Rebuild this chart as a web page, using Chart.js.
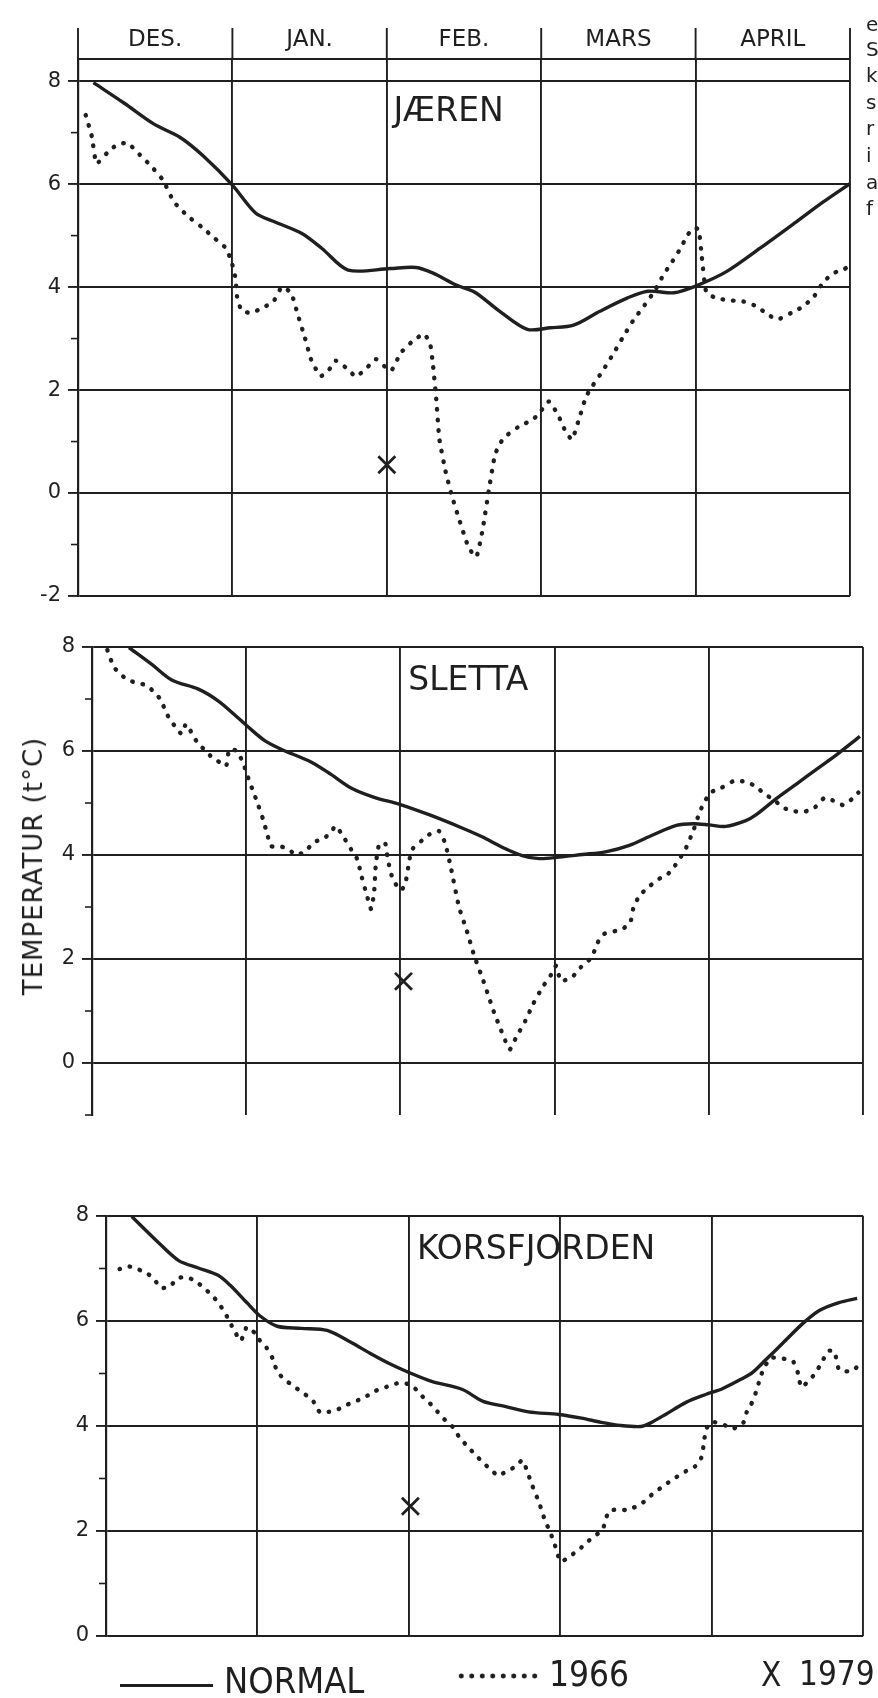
<!DOCTYPE html>
<html>
<head>
<meta charset="utf-8">
<title>Temperatur – Jæren, Sletta, Korsfjorden</title>
<script src="https://cdn.jsdelivr.net/npm/chart.js@4.4.1/dist/chart.umd.min.js"></script>
<style>
  html, body { margin: 0; padding: 0; background: #fff; }
  body { width: 878px; height: 1698px; position: relative; overflow: hidden;
         font-family: "DejaVu Sans", sans-serif; color: #1f1f1f; }
  canvas { position: absolute; left: 0; top: 0; }
  #ylabel { position: absolute; left: 33px; top: 866px; white-space: nowrap;
            font-size: 26px; letter-spacing: 1px;
            transform: translate(-50%, -50%) rotate(-90deg); }
  .lg { position: absolute; white-space: nowrap; line-height: 36px; font-size: 36px;
        font-family: "Liberation Sans Narrow", "DejaVu Sans Condensed", "DejaVu Sans", sans-serif; }
  .lg-solid { position: absolute; left: 120px; top: 1684px; width: 93px; height: 3.4px; background: #1f1f1f; }
  .lg-dots { position: absolute; left: 456px; top: 1673px; width: 82px; height: 6px;
             background: radial-gradient(circle, #1f1f1f 2.2px, transparent 2.8px) 0 0 / 10.5px 6px repeat-x; }
  .frag { position: absolute; left: 866px; font-size: 20px; line-height: 24px; }
</style>
</head>
<body>
<canvas id="c0" width="878" height="1698"></canvas>
<canvas id="c1" width="878" height="1698"></canvas>
<canvas id="c2" width="878" height="1698"></canvas>

<div id="ylabel">TEMPERATUR (t°C)</div>

<div class="lg-solid"></div>
<div class="lg" style="left:224px; top:1663px;">NORMAL</div>
<div class="lg-dots"></div>
<div class="lg" style="left:549px; top:1656px; font-size:35px;">1966</div>
<div class="lg" style="left:761px; top:1657px; font-size:33px;">X</div>
<div class="lg" style="left:799px; top:1656px; font-size:33px;">1979</div>

<div class="frag" style="top:12px;">e</div>
<div class="frag" style="top:37px;">S</div>
<div class="frag" style="top:63px;">k</div>
<div class="frag" style="top:90px;">s</div>
<div class="frag" style="top:116px;">r</div>
<div class="frag" style="top:143px;">i</div>
<div class="frag" style="top:170px;">a</div>
<div class="frag" style="top:196px;">f</div>

<script>
// Month columns (x = months counted from 1 December, 0..5)
const MONTHS = ['DES.', 'JAN.', 'FEB.', 'MARS', 'APRIL'];
const STATIONS = ['JÆREN', 'SLETTA', 'KORSFJORDEN'];
const SERIES = ['NORMAL', '1966', '1979'];

// Jæren
const jaerenNormalX = [0.10,0.30,0.49,0.66,0.81,1.00,1.15,1.28,1.45,1.58,1.75,2.02,2.19,2.30,2.45,2.57,2.74,2.91,3.06,3.21,3.38,3.56,3.69,3.86,4.00,4.20,4.42,4.64,4.82,5.00];
const jaerenNormalT = [7.97,7.57,7.17,6.91,6.55,5.98,5.44,5.26,5.04,4.75,4.33,4.36,4.38,4.27,4.04,3.90,3.51,3.18,3.21,3.26,3.53,3.79,3.92,3.89,4.02,4.30,4.76,5.24,5.64,6.01];
const jaeren1966X = [0.05,0.09,0.12,0.19,0.25,0.32,0.40,0.47,0.55,0.62,0.71,0.80,0.88,0.95,0.99,1.02,1.03,1.06,1.12,1.20,1.27,1.32,1.38,1.42,1.47,1.51,1.57,1.62,1.67,1.75,1.80,1.87,1.93,1.99,2.03,2.09,2.16,2.24,2.28,2.30,2.32,2.34,2.38,2.42,2.46,2.53,2.58,2.62,2.66,2.70,2.73,2.76,2.85,2.94,2.98,3.05,3.11,3.16,3.20,3.24,3.29,3.33,3.40,3.47,3.53,3.60,3.67,3.74,3.79,3.85,3.90,3.95,3.99,4.02,4.04,4.07,4.14,4.23,4.31,4.40,4.46,4.53,4.62,4.70,4.77,4.83,4.90,4.96,4.99];
const jaeren1966T = [7.34,6.92,6.40,6.61,6.76,6.80,6.57,6.36,6.08,5.66,5.38,5.17,4.96,4.78,4.54,4.17,3.82,3.54,3.50,3.60,3.74,4.00,3.89,3.50,3.01,2.59,2.27,2.37,2.57,2.40,2.26,2.43,2.60,2.45,2.38,2.72,2.93,3.09,2.91,2.46,1.83,1.06,0.43,-0.04,-0.43,-1.06,-1.24,-0.72,0.04,0.74,0.94,1.08,1.28,1.42,1.52,1.78,1.51,1.18,1.04,1.39,1.87,2.07,2.38,2.72,3.03,3.37,3.65,3.95,4.23,4.50,4.74,5.02,5.15,5.12,4.59,3.89,3.78,3.74,3.72,3.62,3.48,3.37,3.50,3.63,3.83,4.11,4.28,4.34,4.41];

// Sletta
const slettaNormalX = [0.24,0.39,0.52,0.69,0.82,0.95,1.01,1.12,1.23,1.42,1.55,1.68,1.83,2.00,2.19,2.40,2.53,2.66,2.79,2.90,3.03,3.18,3.33,3.48,3.64,3.79,3.90,4.00,4.11,4.24,4.31,4.44,4.57,4.70,4.83,4.98];
const slettaNormalT = [7.99,7.66,7.36,7.19,6.96,6.63,6.47,6.20,6.03,5.79,5.55,5.29,5.11,4.97,4.77,4.52,4.35,4.15,3.99,3.93,3.96,4.01,4.06,4.18,4.39,4.57,4.60,4.58,4.55,4.66,4.78,5.09,5.37,5.65,5.93,6.28];
const sletta1966X = [0.10,0.14,0.18,0.23,0.30,0.35,0.39,0.44,0.47,0.50,0.55,0.58,0.61,0.65,0.69,0.74,0.78,0.83,0.87,0.89,0.94,0.98,1.02,1.05,1.08,1.11,1.14,1.16,1.23,1.28,1.32,1.38,1.44,1.50,1.55,1.58,1.62,1.68,1.72,1.75,1.78,1.81,1.83,1.84,1.86,1.90,1.92,1.95,2.00,2.03,2.06,2.08,2.14,2.19,2.25,2.29,2.33,2.38,2.43,2.48,2.53,2.57,2.61,2.65,2.68,2.71,2.75,2.81,2.86,2.92,2.98,3.01,3.04,3.11,3.17,3.24,3.28,3.32,3.38,3.43,3.49,3.51,3.55,3.62,3.67,3.73,3.77,3.82,3.85,3.90,3.94,3.97,4.01,4.08,4.16,4.24,4.31,4.36,4.42,4.48,4.56,4.62,4.69,4.75,4.82,4.87,4.93,4.97];
const sletta1966T = [7.94,7.62,7.49,7.37,7.30,7.27,7.17,7.01,6.82,6.63,6.43,6.33,6.52,6.33,6.13,6.00,5.87,5.78,5.71,6.03,6.00,5.77,5.42,5.19,4.94,4.68,4.36,4.17,4.16,4.10,4.00,4.06,4.25,4.31,4.44,4.56,4.40,4.11,3.92,3.57,3.25,2.96,3.30,3.80,4.18,4.24,3.89,3.54,3.32,3.42,3.93,4.12,4.28,4.40,4.46,4.23,3.72,3.00,2.55,2.05,1.65,1.30,0.95,0.65,0.43,0.26,0.49,0.81,1.13,1.45,1.71,1.87,1.58,1.64,1.84,2.03,2.32,2.48,2.53,2.56,2.69,2.97,3.22,3.41,3.53,3.62,3.75,3.97,4.12,4.47,4.82,5.01,5.20,5.29,5.42,5.41,5.31,5.17,5.07,4.91,4.84,4.83,4.92,5.10,5.03,4.96,5.08,5.20];

// Korsfjorden
const korsNormalX = [0.17,0.33,0.48,0.61,0.74,0.82,0.93,1.02,1.13,1.29,1.46,1.62,1.74,1.87,2.00,2.15,2.35,2.49,2.64,2.79,2.99,3.14,3.27,3.40,3.53,3.59,3.70,3.83,3.96,4.07,4.20,4.27,4.36,4.47,4.60,4.71,4.84,4.96];
const korsNormalT = [7.99,7.54,7.15,7.01,6.87,6.68,6.35,6.09,5.90,5.86,5.82,5.59,5.39,5.19,5.02,4.85,4.70,4.47,4.37,4.27,4.22,4.15,4.07,4.01,3.99,4.05,4.23,4.45,4.60,4.71,4.90,5.02,5.27,5.58,5.95,6.20,6.35,6.43];
const kors1966X = [0.09,0.14,0.19,0.23,0.28,0.32,0.36,0.42,0.47,0.52,0.59,0.64,0.69,0.73,0.77,0.80,0.83,0.86,0.89,0.91,0.93,0.98,1.01,1.06,1.10,1.13,1.18,1.23,1.29,1.34,1.38,1.41,1.47,1.52,1.58,1.63,1.68,1.74,1.78,1.84,1.89,1.94,2.01,2.06,2.10,2.15,2.19,2.24,2.29,2.33,2.39,2.44,2.49,2.53,2.59,2.64,2.70,2.75,2.78,2.81,2.86,2.90,2.93,2.96,2.98,3.00,3.05,3.10,3.14,3.19,3.23,3.28,3.30,3.32,3.37,3.43,3.47,3.52,3.58,3.62,3.67,3.73,3.78,3.83,3.89,3.93,3.95,3.96,4.00,4.05,4.09,4.14,4.18,4.21,4.23,4.26,4.29,4.31,4.34,4.39,4.45,4.50,4.54,4.57,4.59,4.63,4.68,4.72,4.77,4.81,4.84,4.90,4.95,4.99];
const kors1966T = [6.99,7.04,7.02,6.96,6.89,6.79,6.63,6.65,6.81,6.84,6.77,6.64,6.52,6.39,6.23,6.08,5.91,5.75,5.62,5.75,5.89,5.78,5.65,5.49,5.29,5.04,4.88,4.78,4.65,4.55,4.43,4.27,4.27,4.30,4.39,4.45,4.51,4.60,4.67,4.73,4.79,4.82,4.79,4.66,4.53,4.40,4.27,4.11,3.98,3.80,3.60,3.45,3.30,3.20,3.05,3.13,3.22,3.35,3.15,2.90,2.54,2.19,2.00,1.77,1.58,1.42,1.48,1.60,1.69,1.82,1.91,2.03,2.22,2.38,2.41,2.40,2.43,2.49,2.62,2.74,2.83,2.96,3.05,3.14,3.23,3.39,3.70,3.93,4.08,4.05,4.01,3.95,4.00,4.07,4.26,4.41,4.63,4.82,5.08,5.30,5.29,5.27,5.22,5.00,4.74,4.83,4.99,5.18,5.43,5.42,5.07,5.04,5.10,5.25];

// 1979: single observation per station (Jæren, Sletta, Korsfjorden)
const x1979 = [2.00, 2.02, 2.01];
const t1979 = [0.55, 1.57, 2.47];

const INK = '#1f1f1f';
const GRID_W = 1.9;
const W = 878, H = 1698;

// Page layout of each panel (pixel box of the plot area)
const panels = [
  { normalX: jaerenNormalX, normalT: jaerenNormalT, x66: jaeren1966X, t66: jaeren1966T,
    yMin: -2, yMax: 8.43, box: { left: 78, right: 850, top: 59, bottom: 596 },
    titleAt: [2.40, 7.40], header: true },
  { normalX: slettaNormalX, normalT: slettaNormalT, x66: sletta1966X, t66: sletta1966T,
    yMin: -1, yMax: 8, box: { left: 92, right: 863, top: 647, bottom: 1115 },
    titleAt: [2.44, 7.33], header: false },
  { normalX: korsNormalX, normalT: korsNormalT, x66: kors1966X, t66: kors1966T,
    yMin: 0, yMax: 8, box: { left: 106, right: 873, top: 1216, bottom: 1636 },
    titleAt: [2.84, 7.35], header: false }
];

const toXY = (xs, ts) => xs.map((x, i) => ({ x, y: ts[i] }));
const isMajor = v => Number.isInteger(v) && v % 2 === 0;

// Small tick marks at the odd degrees on the left axis
const minorTicks = {
  id: 'minorTicks',
  afterDraw(chart) {
    const { ctx, chartArea, scales: { y } } = chart;
    ctx.save();
    ctx.strokeStyle = INK;
    ctx.lineWidth = 1.6;
    for (let v = Math.ceil(y.min); v <= Math.floor(y.max); v++) {
      if (Math.abs(v % 2) !== 1) continue;
      const py = y.getPixelForValue(v);
      ctx.beginPath();
      ctx.moveTo(chartArea.left - 7, py);
      ctx.lineTo(chartArea.left, py);
      ctx.stroke();
    }
    ctx.restore();
  }
};

// Station name inside the panel
const panelTitle = {
  id: 'panelTitle',
  afterDatasetsDraw(chart, args, opts) {
    const { ctx, scales: { x, y } } = chart;
    ctx.save();
    ctx.fillStyle = INK;
    ctx.font = '33px "DejaVu Sans"';
    ctx.textAlign = 'center';
    ctx.textBaseline = 'middle';
    ctx.fillText(opts.text, x.getPixelForValue(opts.at[0]), y.getPixelForValue(opts.at[1]));
    ctx.restore();
  }
};

// Month header above the top panel (top rule, column lines and names)
const monthHeader = {
  id: 'monthHeader',
  afterDraw(chart, args, opts) {
    if (!opts.show) return;
    const { ctx, chartArea, scales: { x } } = chart;
    ctx.save();
    ctx.strokeStyle = INK;
    ctx.lineWidth = GRID_W;
    ctx.beginPath();
    ctx.moveTo(chartArea.left, chartArea.top);
    ctx.lineTo(chartArea.right, chartArea.top);
    ctx.stroke();
    for (let i = 0; i <= MONTHS.length; i++) {
      const px = x.getPixelForValue(i);
      ctx.beginPath();
      ctx.moveTo(px, chartArea.top);
      ctx.lineTo(px, chartArea.top - 31);
      ctx.stroke();
    }
    ctx.fillStyle = INK;
    ctx.font = '23px "DejaVu Sans"';
    ctx.textAlign = 'center';
    ctx.textBaseline = 'middle';
    MONTHS.forEach((m, i) => ctx.fillText(m, x.getPixelForValue(i + 0.5), chartArea.top - 19));
    ctx.restore();
  }
};

panels.forEach((p, i) => {
  const b = p.box;
  new Chart(document.getElementById('c' + i), {
    type: 'line',
    data: {
      datasets: [
        { label: SERIES[0], data: toXY(p.normalX, p.normalT), borderColor: INK, borderWidth: 3.4,
          borderJoinStyle: 'round', pointRadius: 0, tension: 0.3 },
        { label: SERIES[1], data: toXY(p.x66, p.t66), borderColor: INK, borderWidth: 4.4,
          borderDash: [0.5, 10], borderCapStyle: 'round', pointRadius: 0, tension: 0.15 },
        { label: SERIES[2], data: [{ x: x1979[i], y: t1979[i] }], showLine: false,
          pointStyle: 'crossRot', pointRadius: 12, borderColor: INK, borderWidth: 2.8 }
      ]
    },
    options: {
      responsive: false,
      animation: false,
      events: [],
      layout: { padding: { left: 0, right: W - b.right, top: b.top, bottom: H - b.bottom } },
      scales: {
        x: {
          type: 'linear', min: 0, max: MONTHS.length,
          ticks: { stepSize: 1, display: false },
          grid: { color: INK, lineWidth: GRID_W, drawTicks: false },
          border: { display: false },
          afterFit: s => { s.height = 0; }
        },
        y: {
          min: p.yMin, max: p.yMax,
          afterFit: s => { s.width = b.left; },
          ticks: {
            stepSize: 1, autoSkip: false, includeBounds: false, padding: 7, color: INK,
            font: { family: '"DejaVu Sans"', size: 21 },
            callback: v => isMajor(v) ? String(v) : ''
          },
          grid: {
            lineWidth: GRID_W, tickLength: 10,
            color: c => isMajor(c.tick.value) ? INK : 'transparent',
            tickColor: c => isMajor(c.tick.value) ? INK : 'transparent'
          },
          border: { color: INK, width: 2.2 }
        }
      },
      plugins: {
        legend: { display: false },
        tooltip: { enabled: false },
        panelTitle: { text: STATIONS[i], at: p.titleAt },
        monthHeader: { show: p.header }
      }
    },
    plugins: [minorTicks, panelTitle, monthHeader]
  });
});
</script>
</body>
</html>
